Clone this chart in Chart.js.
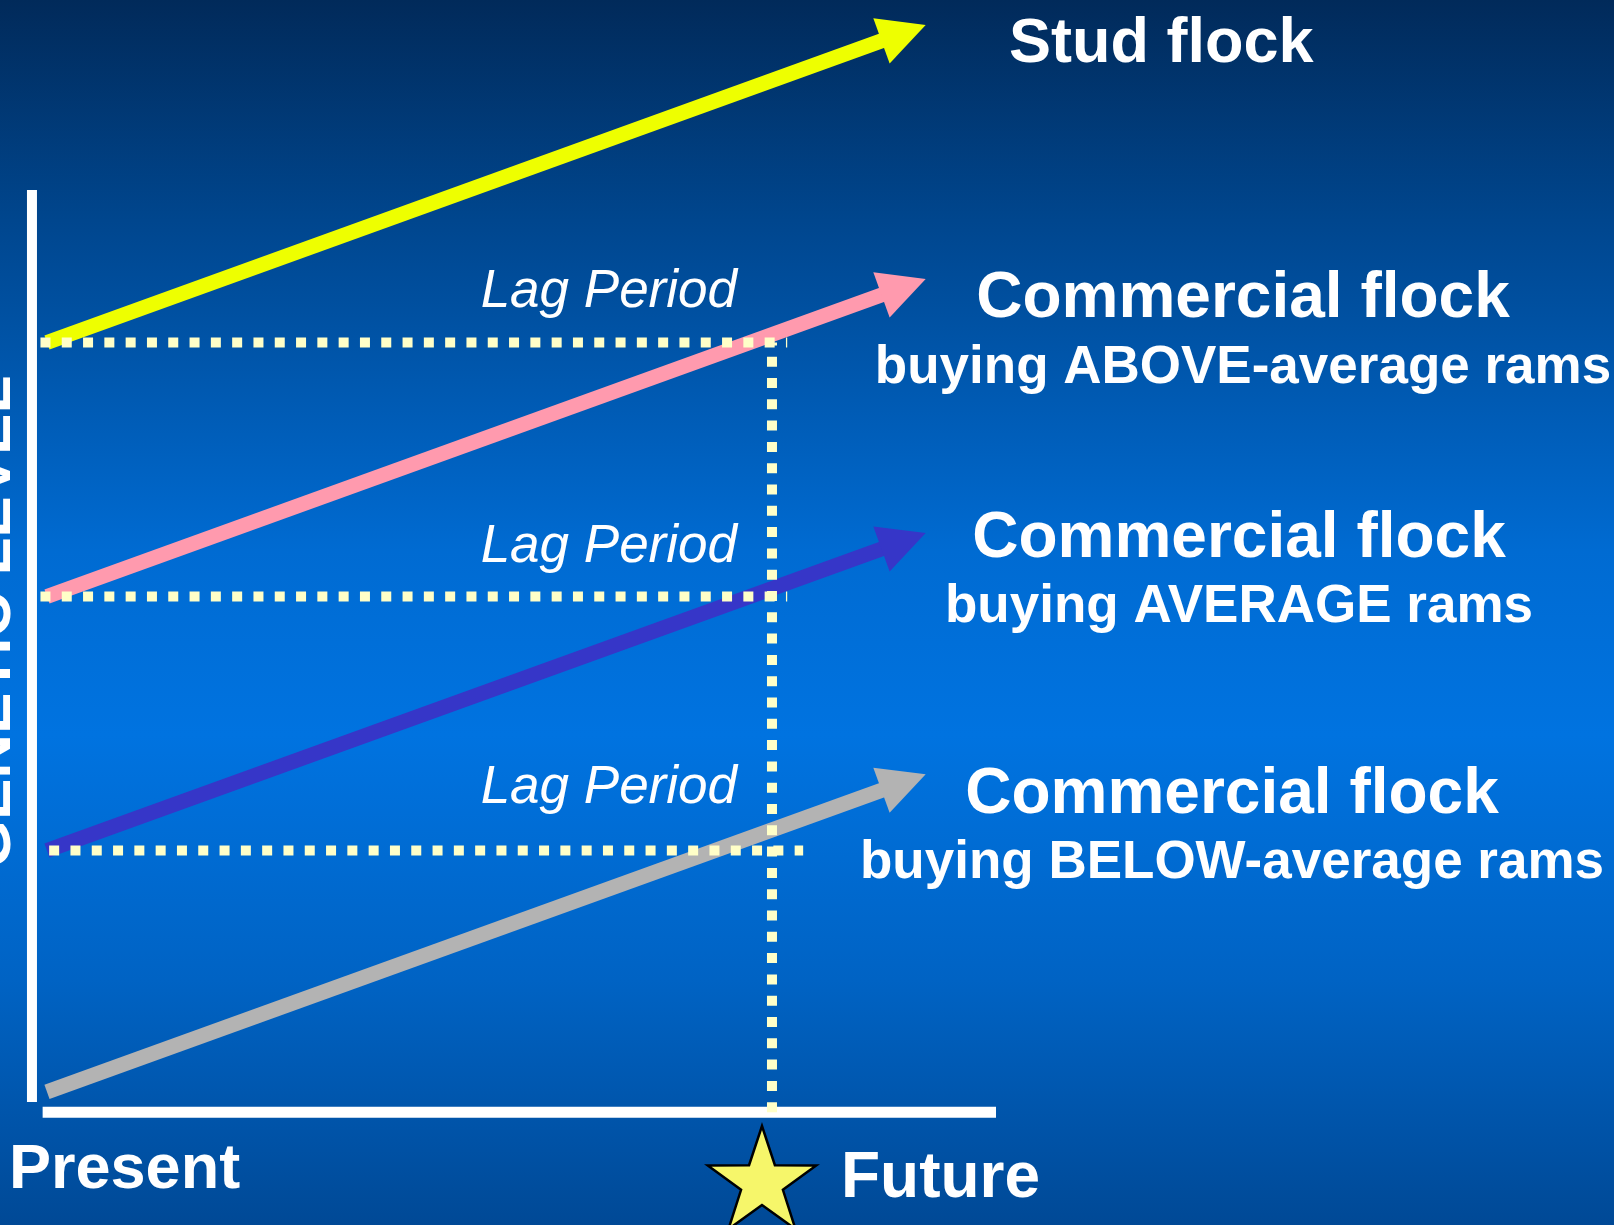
<!DOCTYPE html>
<html>
<head>
<meta charset="utf-8">
<title>Genetic lag</title>
<script src="https://cdn.jsdelivr.net/npm/chart.js@4.4.1/dist/chart.umd.min.js"></script>
<style>
  html, body { margin: 0; padding: 0; background: #0062c4; }
  canvas { display: block; }
</style>
</head>
<body>
<canvas id="lagChart" width="1614" height="1225"></canvas>
<script>
// time: 0 = present, 10 = future (end of the lag period); level = genetic level
const arrowX = [0, 12.12];
const studLevels = [3, 4.25];
const aboveLevels = [2, 3.25];
const averageLevels = [1, 2.25];
const belowLevels = [0.05, 1.3];

const lagLevels = [3, 2, 1];
const lagStartX = [-0.09, -0.09, 0.03];
const lagEndX = [10.21, 10.21, 10.43];
const futureX = 10;

const axisXRange = [-0.06, 13.09];
const axisYRange = [0.01, 3.6];
const axisXAt = -0.207;
const axisYAt = -0.03;

const flockNames = ["Stud flock", "Commercial flock", "Commercial flock", "Commercial flock"];
const flockSubs = ["", "buying ABOVE-average rams", "buying AVERAGE rams", "buying BELOW-average rams"];
const lagLabel = "Lag Period";
const xLabels = ["Present", "Future"];
const yTitle = "GENETIC LEVEL";

const FONT = '"Liberation Sans", Arial, Helvetica, sans-serif';

function pts(xs, ys) {
  return xs.map((x, i) => ({ x: x, y: ys[i] }));
}

const arrowSeries = [
  { levels: studLevels, color: "#eeff00" },
  { levels: aboveLevels, color: "#ff9aae" },
  { levels: averageLevels, color: "#3636c8" },
  { levels: belowLevels, color: "#b3b3b3" }
];

const datasets = [];

// dotted lag guides, drawn on top
const dotted = { borderColor: "#ffffc8", borderWidth: 10, borderDash: [10, 11.3], borderCapStyle: "butt", order: 0 };
lagLevels.forEach((lv, i) => {
  datasets.push(Object.assign({ data: pts([lagStartX[i], lagEndX[i]], [lv, lv]) }, dotted));
});
// vertical guide runs up from the time axis
datasets.push(Object.assign({ data: pts([futureX, futureX], [axisYAt, lagLevels[0]]) }, dotted));

arrowSeries.forEach(s => {
  datasets.push({
    data: pts(arrowX, s.levels),
    borderColor: s.color,
    backgroundColor: s.color,
    borderWidth: 15,
    borderCapStyle: "butt",
    arrow: true,
    order: 1
  });
});

// axes
datasets.push({
  data: pts(axisXRange, [axisYAt, axisYAt]),
  borderColor: "#ffffff",
  borderWidth: 11,
  borderCapStyle: "butt",
  order: 2
});
datasets.push({
  data: pts([axisXAt, axisXAt], axisYRange),
  borderColor: "#ffffff",
  borderWidth: 10,
  borderCapStyle: "butt",
  order: 2
});

const HEAD_LEN = 47;
const HEAD_HALF = 24;

const background = {
  id: "background",
  beforeDraw(chart) {
    const { ctx, width, height } = chart;
    const g = ctx.createLinearGradient(0, 0, 0, height);
    g.addColorStop(0, "#012a5a");
    g.addColorStop(0.18, "#00468e");
    g.addColorStop(0.45, "#006bd2");
    g.addColorStop(0.6, "#0073e0");
    g.addColorStop(0.8, "#0063c4");
    g.addColorStop(1, "#004996");
    ctx.save();
    ctx.fillStyle = g;
    ctx.fillRect(0, 0, width, height);
    ctx.restore();
  }
};

function headGeom(meta) {
  const p = meta.data;
  const a = p[p.length - 2], b = p[p.length - 1];
  const len = Math.hypot(b.x - a.x, b.y - a.y);
  const ux = (b.x - a.x) / len, uy = (b.y - a.y) / len;
  return { tip: b, ux, uy, nx: -uy, ny: ux };
}

const arrowHeads = {
  id: "arrowHeads",
  beforeDatasetDraw(chart, args) {
    const ds = chart.data.datasets[args.index];
    if (!ds.arrow) return;
    const { tip, ux, uy, nx, ny } = headGeom(args.meta);
    const bx = tip.x - ux * (HEAD_LEN - 3), by = tip.y - uy * (HEAD_LEN - 3);
    const ctx = chart.ctx;
    const R = 4000;
    // keep the shaft behind the head's base
    ctx.save();
    ctx.beginPath();
    ctx.moveTo(bx + nx * R, by + ny * R);
    ctx.lineTo(bx + nx * R - ux * R, by + ny * R - uy * R);
    ctx.lineTo(bx - nx * R - ux * R, by - ny * R - uy * R);
    ctx.lineTo(bx - nx * R, by - ny * R);
    ctx.closePath();
    ctx.clip();
  },
  afterDatasetDraw(chart, args) {
    const ds = chart.data.datasets[args.index];
    if (!ds.arrow) return;
    const ctx = chart.ctx;
    ctx.restore();
    const { tip, ux, uy, nx, ny } = headGeom(args.meta);
    const bx = tip.x - ux * HEAD_LEN, by = tip.y - uy * HEAD_LEN;
    ctx.save();
    ctx.fillStyle = ds.borderColor;
    ctx.beginPath();
    ctx.moveTo(tip.x, tip.y);
    ctx.lineTo(bx + nx * HEAD_HALF, by + ny * HEAD_HALF);
    ctx.lineTo(bx - nx * HEAD_HALF, by - ny * HEAD_HALF);
    ctx.closePath();
    ctx.fill();
    ctx.restore();
  }
};

function drawStar(ctx, cx, cy, ro, ri) {
  ctx.save();
  ctx.beginPath();
  for (let i = 0; i < 10; i++) {
    const r = i % 2 === 0 ? ro : ri;
    const ang = -Math.PI / 2 + i * Math.PI / 5;
    const x = cx + r * Math.cos(ang), y = cy + r * Math.sin(ang);
    if (i === 0) ctx.moveTo(x, y); else ctx.lineTo(x, y);
  }
  ctx.closePath();
  ctx.fillStyle = "#f6f66a";
  ctx.fill();
  ctx.lineWidth = 2.5;
  ctx.strokeStyle = "#000000";
  ctx.stroke();
  ctx.restore();
}

const annotations = {
  id: "annotations",
  afterDraw(chart) {
    const ctx = chart.ctx;
    const xs = chart.scales.x;
    ctx.save();
    ctx.fillStyle = "#ffffff";
    ctx.textBaseline = "alphabetic";

    // flock labels
    ctx.textAlign = "left";
    ctx.font = "bold 63px " + FONT;
    ctx.fillText(flockNames[0], 1009, 62);
    const nameY = [317, 557, 813];
    const subY = [383, 622, 878];
    const centers = [1243, 1239, 1232];
    ctx.textAlign = "center";
    for (let i = 1; i < 4; i++) {
      ctx.font = "bold 64px " + FONT;
      ctx.fillText(flockNames[i], centers[i - 1], nameY[i - 1]);
      ctx.font = "bold 53px " + FONT;
      ctx.fillText(flockSubs[i], centers[i - 1], subY[i - 1]);
    }

    // lag period labels
    ctx.textAlign = "right";
    ctx.font = "italic 53px " + FONT;
    [307, 562, 803].forEach(y => ctx.fillText(lagLabel, 737, y));

    // time labels
    ctx.textAlign = "left";
    ctx.font = "bold 63px " + FONT;
    ctx.fillText(xLabels[0], 9, 1188);
    ctx.font = "bold 64px " + FONT;
    ctx.fillText(xLabels[1], 841, 1197);

    drawStar(ctx, xs.getPixelForValue(futureX) - 10, 1183, 57, 22);

    // y title, mostly cut off at the left edge
    ctx.fillStyle = "#ffffff";
    ctx.translate(10, 622);
    ctx.rotate(-Math.PI / 2);
    ctx.textAlign = "center";
    ctx.font = "bold 62px " + FONT;
    ctx.fillText(yTitle, 0, 0);
    ctx.restore();
  }
};

new Chart(document.getElementById("lagChart"), {
  type: "line",
  data: { datasets: datasets },
  options: {
    responsive: false,
    devicePixelRatio: 1,
    animation: false,
    layout: { padding: 0 },
    elements: { point: { radius: 0, hoverRadius: 0 }, line: { tension: 0 } },
    plugins: { legend: { display: false }, tooltip: { enabled: false } },
    scales: {
      x: { type: "linear", min: -0.648, max: 21.614, display: false },
      y: { type: "linear", min: -0.474, max: 4.348, display: false }
    },
    datasets: { line: { clip: false } }
  },
  plugins: [background, arrowHeads, annotations]
});
</script>
</body>
</html>
